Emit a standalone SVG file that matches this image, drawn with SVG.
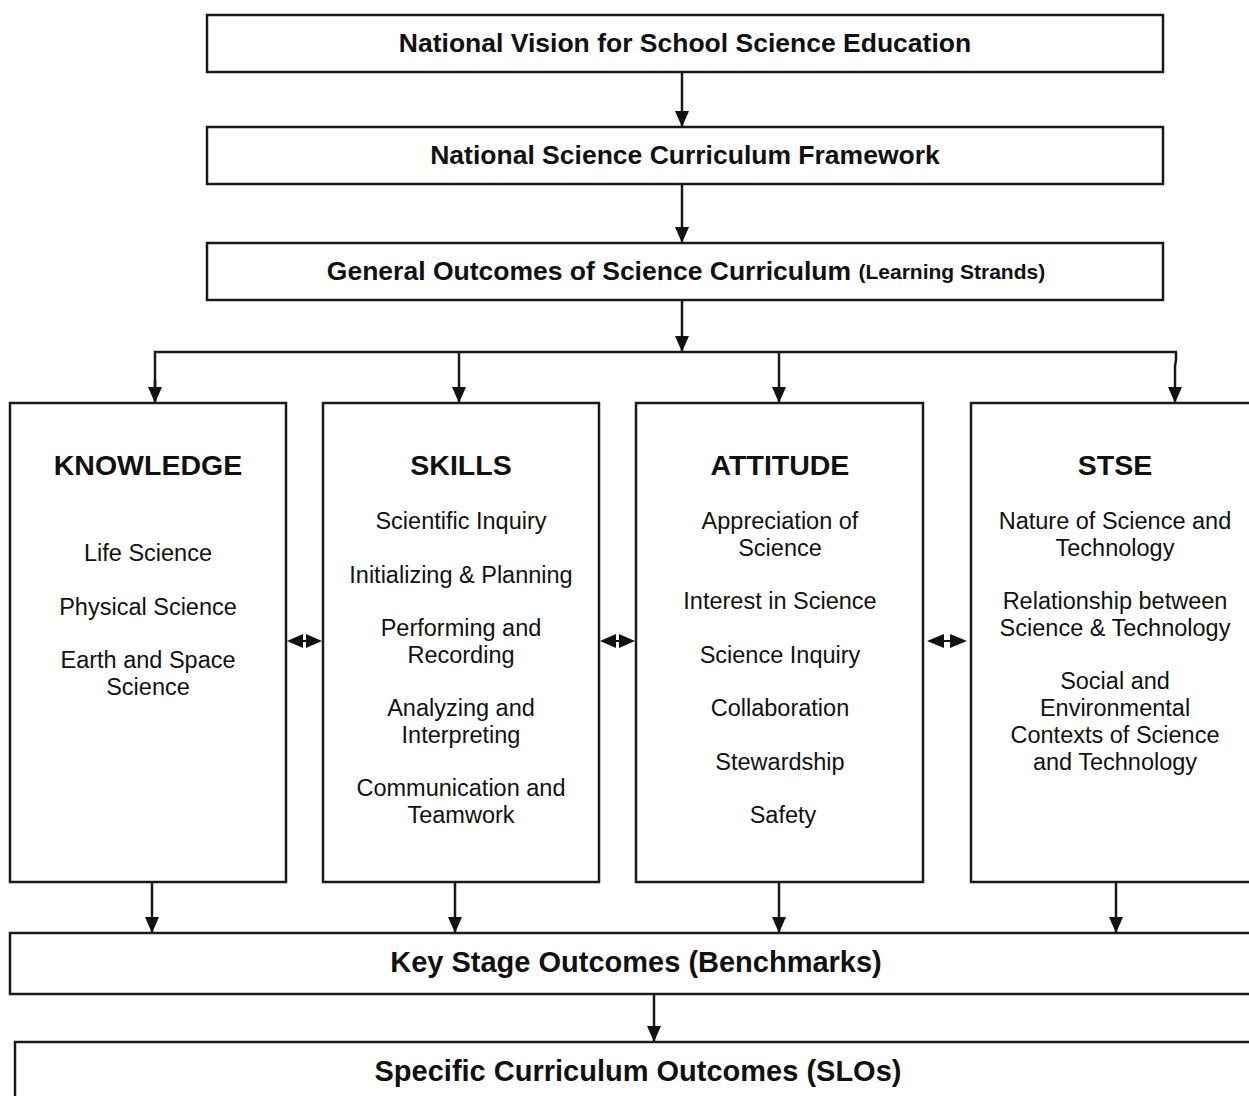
<svg xmlns="http://www.w3.org/2000/svg" width="1249" height="1096" viewBox="0 0 1249 1096">
<style>
.box{fill:#fff;stroke:#1a1a1a;stroke-width:2.5}
.ln{fill:none;stroke:#1a1a1a;stroke-width:2.5}
.ttl{font-family:"Liberation Sans",Arial,sans-serif;font-weight:bold;font-size:26.5px;fill:#111;text-anchor:middle;dominant-baseline:central}
.big{font-size:29px}
.hd{font-family:"Liberation Sans",Arial,sans-serif;font-weight:bold;font-size:28.5px;fill:#111;text-anchor:middle;dominant-baseline:central}
.it{font-family:"Liberation Sans",Arial,sans-serif;font-size:23.5px;fill:#111;text-anchor:middle;dominant-baseline:central}
.ah{fill:#111}
</style>
<defs>
<marker id="arr" viewBox="0 0 16 14" refX="16" refY="7" markerWidth="16" markerHeight="14" markerUnits="userSpaceOnUse" orient="auto">
<path d="M0,0 L16,7 L0,14 Z" class="ah"/>
</marker>
</defs>

<g id="vision">
<rect class="box" x="207" y="15" width="956" height="57"/>
<text class="ttl" x="685" y="43">National Vision for School Science Education</text>
</g>
<g id="framework">
<rect class="box" x="207" y="127" width="956" height="57"/>
<text class="ttl" x="685" y="155">National Science Curriculum Framework</text>
</g>
<g id="general">
<rect class="box" x="207" y="243" width="956" height="57"/>
<text class="ttl" x="686" y="271">General Outcomes of Science Curriculum <tspan font-size="21px">(Learning Strands)</tspan></text>
</g>

<g id="knowledge">
<rect class="box" x="10" y="403" width="276" height="479"/>
<text class="hd" x="148" y="465">KNOWLEDGE</text>
<text class="it" x="148" y="553">Life Science</text>
<text class="it" x="148" y="607">Physical Science</text>
<text class="it" x="148" y="660">Earth and Space</text>
<text class="it" x="148" y="687">Science</text>
</g>
<g id="skills">
<rect class="box" x="323" y="403" width="276" height="479"/>
<text class="hd" x="461" y="465">SKILLS</text>
<text class="it" x="461" y="521">Scientific Inquiry</text>
<text class="it" x="461" y="575">Initializing &amp; Planning</text>
<text class="it" x="461" y="628">Performing and</text>
<text class="it" x="461" y="655">Recording</text>
<text class="it" x="461" y="708">Analyzing and</text>
<text class="it" x="461" y="735">Interpreting</text>
<text class="it" x="461" y="788">Communication and</text>
<text class="it" x="461" y="815">Teamwork</text>
</g>
<g id="attitude">
<rect class="box" x="636" y="403" width="287" height="479"/>
<text class="hd" x="780" y="465">ATTITUDE</text>
<text class="it" x="780" y="521">Appreciation of</text>
<text class="it" x="780" y="548">Science</text>
<text class="it" x="780" y="601">Interest in Science</text>
<text class="it" x="780" y="655">Science Inquiry</text>
<text class="it" x="780" y="708">Collaboration</text>
<text class="it" x="780" y="762">Stewardship</text>
<text class="it" x="783" y="815">Safety</text>
</g>
<g id="stse">
<rect class="box" x="971" y="403" width="290" height="479"/>
<text class="hd" x="1115" y="465">STSE</text>
<text class="it" x="1115" y="521">Nature of Science and</text>
<text class="it" x="1115" y="548">Technology</text>
<text class="it" x="1115" y="601">Relationship between</text>
<text class="it" x="1115" y="628">Science &amp; Technology</text>
<text class="it" x="1115" y="681">Social and</text>
<text class="it" x="1115" y="708">Environmental</text>
<text class="it" x="1115" y="735">Contexts of Science</text>
<text class="it" x="1115" y="762">and Technology</text>
</g>

<g id="keystage">
<rect class="box" x="10" y="933" width="1260" height="61"/>
<text class="ttl big" x="636" y="962">Key Stage Outcomes (Benchmarks)</text>
</g>
<g id="slo">
<rect class="box" x="15" y="1042" width="1260" height="80"/>
<text class="ttl big" x="638" y="1071">Specific Curriculum Outcomes (SLOs)</text>
</g>

<g id="connectors">
<line class="ln" x1="682" y1="72" x2="682" y2="127" marker-end="url(#arr)"/>
<line class="ln" x1="682" y1="184" x2="682" y2="243" marker-end="url(#arr)"/>
<line class="ln" x1="682" y1="300" x2="682" y2="352" marker-end="url(#arr)"/>
<polyline class="ln" points="155,403 155,352 1177,352"/>
<line class="ln" x1="155" y1="380" x2="155" y2="403" marker-end="url(#arr)"/>
<line class="ln" x1="459" y1="352" x2="459" y2="403" marker-end="url(#arr)"/>
<line class="ln" x1="779" y1="352" x2="779" y2="403" marker-end="url(#arr)"/>
<polyline class="ln" points="1176,352 1176,360 1175,366 1175,403" marker-end="url(#arr)"/>

<line class="ln" x1="152" y1="882" x2="152" y2="933" marker-end="url(#arr)"/>
<line class="ln" x1="455" y1="882" x2="455" y2="933" marker-end="url(#arr)"/>
<line class="ln" x1="779" y1="882" x2="779" y2="933" marker-end="url(#arr)"/>
<line class="ln" x1="1116" y1="882" x2="1116" y2="933" marker-end="url(#arr)"/>
<line class="ln" x1="654" y1="994" x2="654" y2="1042" marker-end="url(#arr)"/>

<g id="dbl1">
<line x1="298" y1="641" x2="312" y2="641" stroke="#111" stroke-width="2"/>
<path class="ah" d="M287,641 L303,634 L303,648 Z"/>
<path class="ah" d="M322,641 L306,634 L306,648 Z"/>
</g>
<g id="dbl2">
<line x1="610" y1="641" x2="625" y2="641" stroke="#111" stroke-width="2"/>
<path class="ah" d="M600,641 L616,634 L616,648 Z"/>
<path class="ah" d="M635,641 L619,634 L619,648 Z"/>
</g>
<g id="dbl3">
<line x1="938" y1="641" x2="956" y2="641" stroke="#111" stroke-width="2"/>
<path class="ah" d="M927,641 L944,634 L944,648 Z"/>
<path class="ah" d="M967,641 L950,634 L950,648 Z"/>
</g>
</g>
</svg>
